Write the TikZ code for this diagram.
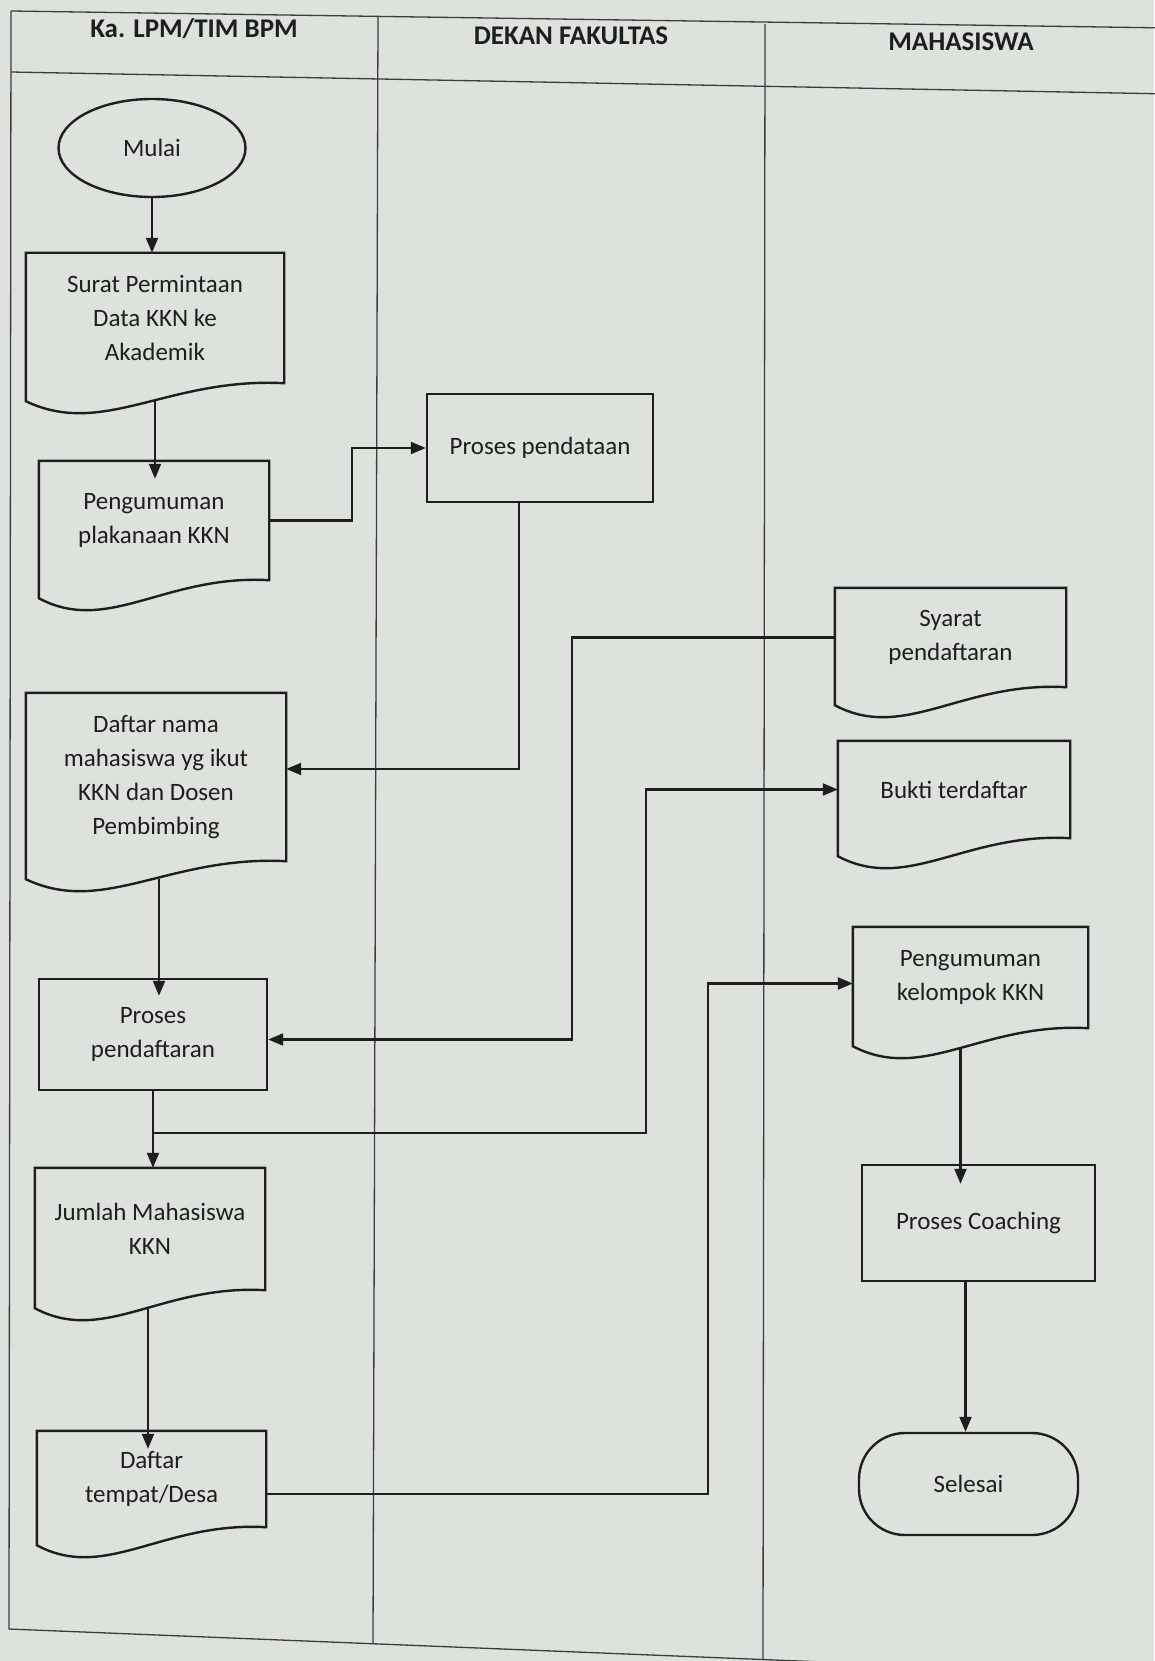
\documentclass[tikz,border=0pt]{standalone}
\usepackage{fontspec}
\setmainfont{Carlito}
\usetikzlibrary{arrows.meta,shapes.geometric,calc}
\definecolor{bgc}{RGB}{222,226,221}
\definecolor{linec}{RGB}{30,30,32}
\definecolor{lanec}{RGB}{60,60,64}
\newcommand\bodyfnt{\fontsize{25}{34}\selectfont}
\newcommand\headfnt{\fontsize{27}{32}\selectfont\bfseries}
\newcommand\docoutline[1]{%
  \draw[shapeline] let \p1=(#1.south west), \p2=(#1.north east) in
   (\x1,{\y1-18pt}) -- (\x1,\y2) -- (\x2,\y2) -- (\x2,\y1)
   .. controls ({\x2-0.45*(\x2-\x1)},{\y1+6pt}) and ({\x1+0.3*(\x2-\x1)},{\y1-55pt}) .. (\x1,{\y1-18pt}) -- cycle;}
\tikzset{
  lane/.style={line width=1.3pt, draw=lanec},
  shapeline/.style={line width=2.4pt, draw=linec, line join=miter},
  docbox/.style={rectangle, inner sep=0pt, align=center, font=\bodyfnt, text=linec},
  procbox/.style={docbox, draw=linec, line width=2.4pt},
  flow/.style={line width=2.2pt, draw=linec, -{Triangle[length=15pt,width=12pt]}},
  hdr/.style={font=\headfnt, text=linec, inner sep=0pt}
}
\begin{document}
\begin{tikzpicture}[x=1pt,y=-1pt]
\useasboundingbox (0,0) rectangle (1154,1661);
\fill[bgc] (0,0) rectangle (1154,1661);
% lanes
\draw[lane] (11,11) -- (1170,28);
\draw[lane] (11,11) -- (9,1629) -- (1170,1676);
\draw[lane] (11,72) -- (1170,94);
\draw[lane] (378,17) -- (373,1643);
\draw[lane] (765,24) -- (763,1659);
% headers
\node[hdr] (h1) at (194,29) {Ka. LPM/TIM BPM};
\node[hdr] (h2) at (571,36) {DEKAN FAKULTAS};
\node[hdr] (h3) at (961,42) {MAHASISWA};
% nodes
\node[ellipse, draw=linec, line width=2.4pt, minimum width=187pt, minimum height=98pt, inner sep=0pt, font=\bodyfnt, text=linec] (mulai) at (152,148) {Mulai};
\node[docbox, minimum width=258pt, minimum height=130pt] (surat) at (155,318) {Surat Permintaan\\Data KKN ke\\Akademik};
\docoutline{surat}
\node[docbox, minimum width=230pt, minimum height=119pt] (peng) at (154,520.5) {Pengumuman\\plakanaan KKN};
\docoutline{peng}
\node[procbox, minimum width=226pt, minimum height=108pt] (pendataan) at (540,448) {Proses pendataan};
\node[docbox, minimum width=231pt, minimum height=99pt] (syarat) at (950.5,637.5) {Syarat\\pendaftaran};
\docoutline{syarat}
\node[docbox, minimum width=232pt, minimum height=97pt] (bukti) at (954,789.5) {Bukti terdaftar};
\docoutline{bukti}
\node[docbox, minimum width=260pt, minimum height=168pt] (daftar) at (156,777) {Daftar nama\\mahasiswa yg ikut\\KKN dan Dosen\\Pembimbing};
\docoutline{daftar}
\node[procbox, minimum width=228pt, minimum height=111pt] (pendaftaran) at (153,1034.5) {Proses\\pendaftaran};
\node[docbox, minimum width=235pt, minimum height=101pt] (kelompok) at (970.5,977.5) {Pengumuman\\kelompok KKN};
\docoutline{kelompok}
\node[docbox, minimum width=230pt, minimum height=122pt] (jumlah) at (150,1229) {Jumlah Mahasiswa\\KKN};
\docoutline{jumlah}
\node[procbox, minimum width=233pt, minimum height=116pt] (coaching) at (978.5,1223) {Proses Coaching};
\node[docbox, minimum width=229pt, minimum height=96pt] (tempat) at (151.5,1479) {Daftar\\tempat/Desa};
\docoutline{tempat}
\node[procbox, rounded corners=46pt, minimum width=219pt, minimum height=102pt] (selesai) at (968.5,1484) {Selesai};
% connectors
\draw[flow] (mulai.south) -- (mulai.south |- surat.north);
\draw[flow] ([yshift=-18pt]surat.south) -- ([yshift=-18pt]surat.south |- peng.north);
\draw[flow] (peng.east) -- ++(83,0) |- (pendataan.west);
\draw[flow] ([xshift=-21pt]pendataan.south) |- ([yshift=8pt]daftar.east);
\draw[flow] ([xshift=3pt,yshift=-18pt]daftar.south) -- ([xshift=3pt,yshift=-18pt]daftar.south |- pendaftaran.north);
\draw[flow] (syarat.west) -- ++(-263,0) |- ([yshift=-5pt]pendaftaran.east);
\draw[flow] (pendaftaran.south) -- (pendaftaran.south |- jumlah.north);
\coordinate (br) at ($(pendaftaran.south)!0.55!(pendaftaran.south |- jumlah.north)$);
\draw[flow] (br) -- ++(493,0) |- (bukti.west);
\draw[flow] ([xshift=-2pt,yshift=-18pt]jumlah.south) -- ([xshift=-2pt,yshift=-18pt]jumlah.south |- tempat.north);
\draw[flow] ([yshift=-15pt]tempat.east) -- ++(442,0) |- ([yshift=-6pt]kelompok.west);
\draw[flow] ([xshift=-10pt,yshift=-20pt]kelompok.south) -- ([xshift=-10pt,yshift=-20pt]kelompok.south |- coaching.north);
\draw[flow] ([xshift=-13pt]coaching.south) -- ([xshift=-13pt]coaching.south |- selesai.north);
\end{tikzpicture}
\end{document}
